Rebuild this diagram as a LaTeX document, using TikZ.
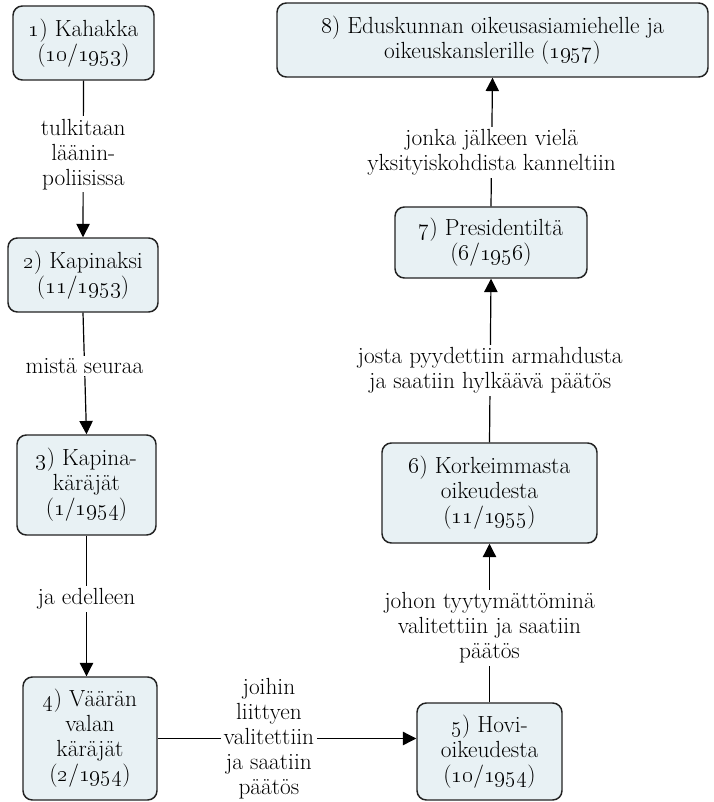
\documentclass[tikz,border=0pt]{standalone}
\usetikzlibrary{arrows.meta}
\definecolor{boxfill}{HTML}{E8F1F4}
\definecolor{boxline}{HTML}{222222}
\newcommand{\osn}[1]{\oldstylenums{#1}}
\newcommand{\myfont}{\fontsize{17.5}{18.75}\selectfont}
\begin{document}
\begin{tikzpicture}[x=0.75pt,y=-0.75pt,
  box/.style={draw=boxline, line width=1.1pt, rounded corners=7pt, fill=boxfill, align=center, inner sep=0pt, font=\myfont},
  lab/.style={fill=white, align=center, inner sep=2pt, font=\myfont},
  arr/.style={-{Triangle[length=10pt,width=10pt]}, line width=0.9pt, draw=black}]
\useasboundingbox (0,0) rectangle (713,802);
\node[box, minimum width=105.75pt, minimum height=55.5pt] (n1) at (83.5,43) {\osn{1}) Kahakka\\(\osn{10}/\osn{1953})};
\node[box, minimum width=112.5pt, minimum height=55.5pt] (n2) at (83,275) {\osn{2}) Kapinaksi\\(\osn{11}/\osn{1953})};
\node[box, minimum width=104.25pt, minimum height=75pt] (n3) at (86.5,485) {\osn{3}) Kapina-\\käräjät\\(\osn{1}/\osn{1954})};
\node[box, minimum width=100.5pt, minimum height=92.25pt] (n4) at (90,738.5) {\osn{4}) Väärän\\valan\\käräjät\\(\osn{2}/\osn{1954})};
\node[box, minimum width=108.75pt, minimum height=72.75pt] (n5) at (489.5,751.5) {\osn{5}) Hovi-\\oikeudesta\\(\osn{10}/\osn{1954})};
\node[box, minimum width=161.25pt, minimum height=75pt] (n6) at (489.5,493) {\osn{6}) Korkeimmasta\\oikeudesta\\(\osn{11}/\osn{1955})};
\node[box, minimum width=144pt, minimum height=53.25pt] (n7) at (491,242.5) {\osn{7}) Presidentiltä\\(\osn{6}/\osn{1956})};
\node[box, minimum width=323.25pt, minimum height=55.5pt] (n8) at (492.5,40) {\osn{8}) Eduskunnan oikeusasiamiehelle ja\\oikeuskanslerille (\osn{1957})};

\draw[arr] (n1.south) -- node[lab, pos=0.47] {tulkitaan\\läänin-\\poliisissa} (n2.north);
\draw[arr] (n2.south) -- node[lab, pos=0.44] {mistä seuraa} (n3.north);
\draw[arr] (n3.south) -- node[lab, pos=0.45] {ja edelleen} (n3.south |- n4.north);
\draw[arr] (n4.east) -- node[lab, pos=0.43] {joihin\\liittyen\\valitettiin\\ja saatiin\\päätös} (n4.east -| n5.west);
\draw[arr] (n5.north) -- node[lab, pos=0.47] {johon tyytymättöminä\\valitettiin ja saatiin\\päätös} (n6.north |- n6.south);
\draw[arr] (n6.north) -- node[lab, pos=0.44] {josta pyydettiin armahdusta\\ja saatiin hylkäävä päätös} (n7.south);
\draw[arr] (n7.north) -- node[lab, pos=0.42] {jonka jälkeen vielä\\yksityiskohdista kanneltiin} (n8.south);
\end{tikzpicture}
\end{document}
